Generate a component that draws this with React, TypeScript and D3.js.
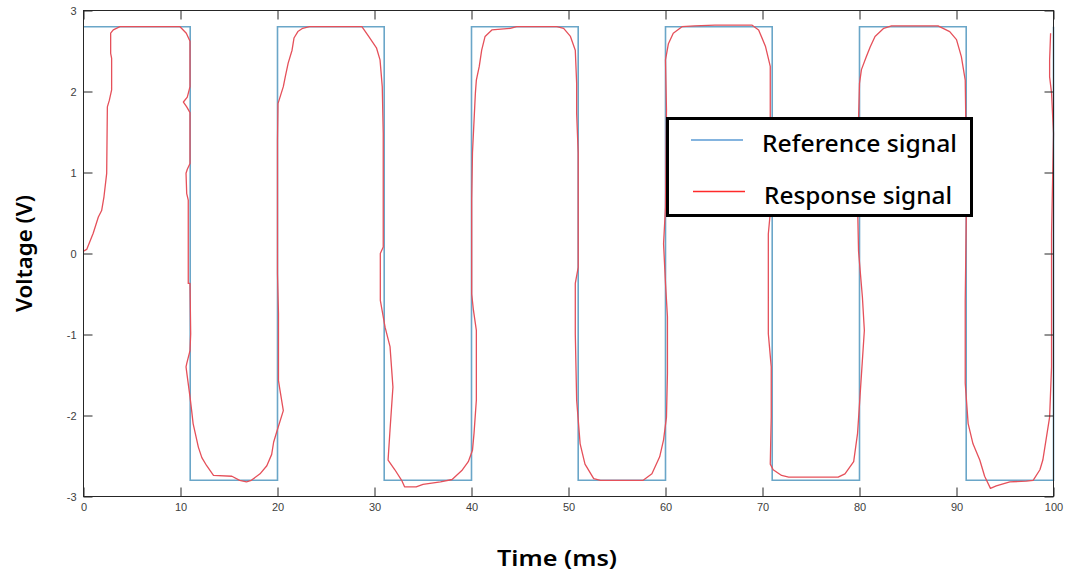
import React, { useEffect, useRef } from 'react';
import * as d3 from 'd3';

// reference square wave: level holds from each time until the next one
const refTimes = [0, 11, 20, 31, 40, 51, 60, 71, 80, 91, 100];
const refLevels = [2.8, -2.8, 2.8, -2.8, 2.8, -2.8, 2.8, -2.8, 2.8, -2.8, 2.8];

const respTimes = [
  0, 0.33, 1.0, 1.53, 1.87, 2.11, 2.39, 2.46, 2.66, 2.9, 2.9, 2.8, 2.8, 3.07, 3.76, 9.95,
  10.6, 10.98, 10.98, 10.7, 10.3, 10.64, 10.98, 10.98, 10.7, 10.57, 10.64, 10.8, 10.8, 10.98,
  11.05, 10.98, 10.64, 10.57, 10.7, 10.98, 11.15, 11.3, 11.6, 11.84, 12.2, 12.7, 13.4, 15.3,
  16.1, 16.8, 17.3, 18.2, 18.9, 19.4, 19.6, 19.9, 20.6, 20.26, 20.1, 20.1, 20.0, 20.0, 20.0,
  20.05, 20.26, 20.6, 20.8, 21.1, 21.5, 21.7, 22.1, 22.6, 23.3, 28.7, 29.4, 30.2, 30.57, 30.8,
  30.9, 30.9, 30.6, 30.6, 31.09, 31.6, 31.9, 31.6, 31.4, 32.1, 32.8, 33.1, 34.3, 35.0, 36.8,
  38.0, 39.0, 39.67, 40.1, 40.26, 40.5, 40.5, 40.2, 40.02, 40.02, 40.1, 40.4, 40.5, 40.8, 41.05,
  41.4, 42.1, 44.0, 44.65, 48.8, 49.5, 50.2, 50.7, 50.84, 50.84, 51.0, 51.0, 50.7, 50.7, 50.84,
  51.2, 51.7, 52.6, 53.3, 57.7, 58.6, 59.4, 59.8, 60.1, 60.2, 60.2, 60.0, 59.8, 60.0, 60.1,
  60.0, 60.3, 60.8, 61.7, 63.0, 65.1, 68.9, 69.6, 70.3, 70.8, 70.8, 70.6, 70.76, 70.6, 70.6,
  70.9, 70.9, 70.8, 71.1, 71.97, 72.7, 77.8, 78.5, 79.4, 79.8, 80.05, 80.5, 80.3, 79.9, 79.8,
  79.9, 80.0, 80.2, 80.7, 81.1, 81.6, 82.5, 83.3, 88.1, 89.3, 90.0, 90.5, 90.9, 91.05, 90.9,
  90.9, 91.2, 91.7, 92.4, 92.9, 93.5, 94.1, 95.5, 97.2, 97.9, 98.6, 98.9, 99.6, 99.8, 99.8,
  100.0, 99.8, 99.6, 99.6, 99.7,
];
const respVolts = [
  0.03, 0.05, 0.25, 0.45, 0.53, 0.7, 0.99, 1.81, 1.89, 2.02, 2.41, 2.47, 2.72, 2.76, 2.8, 2.8,
  2.72, 2.62, 2.06, 1.93, 1.87, 1.81, 1.74, 1.11, 1.04, 0.99, 0.74, 0.66, -0.37, -0.37,
  -0.99, -1.2, -1.36, -1.4, -1.52, -1.77, -1.94, -2.1, -2.26, -2.39, -2.52, -2.62, -2.74, -2.75,
  -2.8, -2.82, -2.8, -2.72, -2.62, -2.48, -2.33, -2.21, -1.94, -1.69, -1.57, -0.74, -0.25, 0.4, 1.4,
  1.85, 1.93, 2.06, 2.18, 2.35, 2.51, 2.66, 2.74, 2.78, 2.8, 2.8, 2.68, 2.54, 2.39, 2.06,
  1.48, 0.08, 0.0, -0.58, -0.91, -1.15, -1.65, -2.18, -2.55, -2.67, -2.8, -2.88, -2.88, -2.85, -2.82,
  -2.79, -2.68, -2.57, -2.43, -2.22, -1.81, -0.95, -0.7, -0.5, 0.66, 1.24, 1.98, 2.14, 2.31, 2.51,
  2.68, 2.76, 2.78, 2.8, 2.8, 2.78, 2.68, 2.51, 2.1, 1.73, 1.24, -0.17, -0.37, -0.99, -1.81,
  -2.35, -2.6, -2.78, -2.8, -2.8, -2.72, -2.51, -2.3, -2.02, -1.48, -0.78, -0.37, 0.12, 0.57, 1.77,
  2.39, 2.59, 2.72, 2.8, 2.81, 2.82, 2.82, 2.76, 2.56, 2.31, 1.65, 1.48, 0.45, 0.24, -0.99,
  -1.4, -2.02, -2.6, -2.67, -2.74, -2.76, -2.76, -2.72, -2.57, -2.22, -1.77, -0.95, -0.54, 0.03, 0.61,
  1.65, 2.1, 2.27, 2.43, 2.55, 2.68, 2.78, 2.81, 2.81, 2.74, 2.64, 2.43, 2.14, 0.86, -0.58,
  -1.6, -2.1, -2.35, -2.55, -2.75, -2.9, -2.87, -2.82, -2.81, -2.8, -2.67, -2.55, -2.02, -1.4, 0.24,
  1.48, 1.98, 2.18, 2.39, 2.72,
];

const xTicks = [0, 10, 20, 30, 40, 50, 60, 70, 80, 90, 100];
const yTicks = [-3, -2, -1, 0, 1, 2, 3];
const seriesNames = ['Reference signal', 'Response signal'];

const App = () => {
  const svgRef = useRef<SVGSVGElement>(null);

  useEffect(() => {
    const svg = d3.select(svgRef.current);
    svg.selectAll('*').remove();

    const W = 1067;
    const H = 576;
    const left = 83.5, right = 1053.5, top = 10.5, bottom = 496.5;

    const x = d3.scaleLinear().domain([0, 100]).range([left, right]);
    const y = d3.scaleLinear().domain([-3, 3]).range([bottom, top]);

    svg.append('rect').attr('width', W).attr('height', H).attr('fill', '#fff');

    const ref = refTimes.map((t, i) => ({ t, v: refLevels[i] }));
    const resp = respTimes.map((t, i) => ({ t, v: respVolts[i] }));

    const stepLine = d3.line<{ t: number; v: number }>()
      .x(d => x(d.t))
      .y(d => y(d.v))
      .curve(d3.curveStepAfter);

    const line = d3.line<{ t: number; v: number }>()
      .x(d => x(d.t))
      .y(d => y(d.v));

    svg.append('path')
      .datum(ref)
      .attr('fill', 'none')
      .attr('stroke', '#6aa6c8')
      .attr('stroke-width', 1.6)
      .attr('d', stepLine);

    svg.append('path')
      .datum(resp)
      .attr('fill', 'none')
      .attr('stroke', '#e5505a')
      .attr('stroke-width', 1.3)
      .attr('stroke-linejoin', 'round')
      .attr('d', line);

    // axes, MATLAB style: box on, ticks pointing inward
    const axisColor = '#262626';
    const tickFont = '"Liberation Sans", Arial, sans-serif';
    const fmt = (d: number) => String(d);

    const gx = svg.append('g')
      .attr('transform', `translate(0,${bottom})`)
      .call(d3.axisBottom(x).tickValues(xTicks).tickSize(-9).tickPadding(7).tickFormat(fmt));
    const gxTop = svg.append('g')
      .attr('transform', `translate(0,${top})`)
      .call(d3.axisTop(x).tickValues(xTicks).tickSize(-9).tickFormat(() => ''));
    const gy = svg.append('g')
      .attr('transform', `translate(${left},0)`)
      .call(d3.axisLeft(y).tickValues(yTicks).tickSize(-9).tickPadding(7).tickFormat(fmt));
    const gyRight = svg.append('g')
      .attr('transform', `translate(${right},0)`)
      .call(d3.axisRight(y).tickValues(yTicks).tickSize(-9).tickFormat(() => ''));

    [gx, gxTop, gy, gyRight].forEach(g => {
      g.select('.domain').remove();
      g.selectAll('line').attr('stroke', axisColor).attr('stroke-width', 1);
      g.selectAll('text')
        .attr('fill', '#404040')
        .style('font-family', tickFont)
        .style('font-size', '11px');
    });

    svg.append('rect')
      .attr('x', left)
      .attr('y', top)
      .attr('width', right - left)
      .attr('height', bottom - top)
      .attr('fill', 'none')
      .attr('stroke', axisColor)
      .attr('stroke-width', 1);

    // axis titles
    const titleFont = '"Noto Sans", "Open Sans", sans-serif';
    svg.append('text')
      .attr('x', 557)
      .attr('y', 566)
      .attr('text-anchor', 'middle')
      .style('font-family', titleFont)
      .style('font-size', '21px')
      .style('font-weight', 600)
      .attr('textLength', 120)
      .attr('lengthAdjust', 'spacingAndGlyphs')
      .text('Time (ms)');

    svg.append('text')
      .attr('transform', 'translate(32,253.5) rotate(-90)')
      .attr('text-anchor', 'middle')
      .style('font-family', titleFont)
      .style('font-size', '21px')
      .style('font-weight', 600)
      .attr('textLength', 117)
      .attr('lengthAdjust', 'spacingAndGlyphs')
      .text('Voltage (V)');

    // legend
    const legend = svg.append('g');
    legend.append('rect')
      .attr('x', 667.5)
      .attr('y', 118.5)
      .attr('width', 304)
      .attr('height', 97)
      .attr('fill', '#fff')
      .attr('stroke', '#000')
      .attr('stroke-width', 3);

    const legendRows = [
      { name: seriesNames[0], color: '#5b9bd5', ly: 140, x0: 691, x1: 743, tx: 762, ty: 151.5, tw: 195 },
      { name: seriesNames[1], color: '#ff2a2a', ly: 191.5, x0: 693, x1: 745, tx: 764, ty: 204, tw: 188 },
    ];
    legendRows.forEach(r => {
      legend.append('line')
        .attr('x1', r.x0).attr('x2', r.x1)
        .attr('y1', r.ly).attr('y2', r.ly)
        .attr('stroke', r.color)
        .attr('stroke-width', 1.3);
      legend.append('text')
        .attr('x', r.tx)
        .attr('y', r.ty)
        .attr('textLength', r.tw)
        .attr('lengthAdjust', 'spacingAndGlyphs')
        .style('font-family', titleFont)
        .style('font-size', '24px')
        .style('font-weight', 500)
        .attr('fill', '#000')
        .text(r.name);
    });
  }, []);

  return (
    <>
      <style>{'body{margin:0}'}</style>
      <svg ref={svgRef} width="1067" height="576"></svg>
    </>
  );
};

export default App;
